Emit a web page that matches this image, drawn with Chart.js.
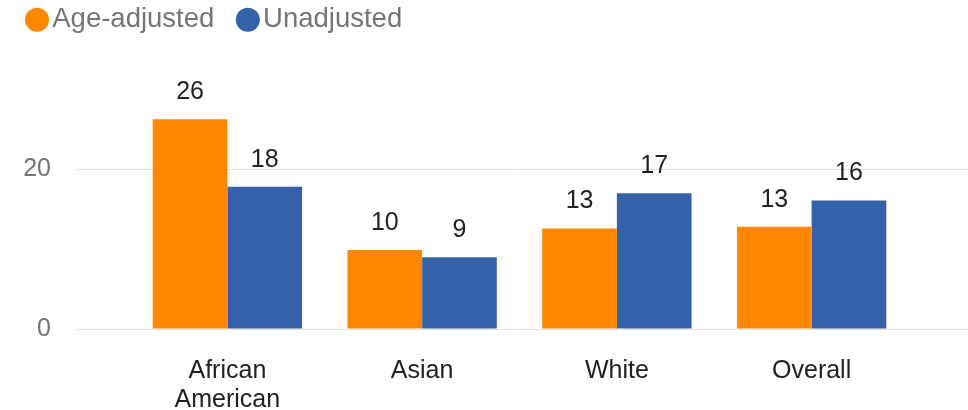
<!DOCTYPE html>
<html>
<head>
<meta charset="utf-8">
<script src="https://cdn.jsdelivr.net/npm/chart.js@4/dist/chart.umd.min.js"></script>
<style>
  body { margin: 0; background: #fff; }
</style>
</head>
<body>
<canvas id="grafica" width="968" height="410"></canvas>
<script>
// datos
const categorias = [['African', 'American'], 'Asian', 'White', 'Overall'];
const ajustado = [26.25, 9.9, 12.6, 12.8];
const sinAjustar = [17.8, 9.0, 17.0, 16.1];
const ticksY = [0, 20];

const fuente = 'Liberation Sans, Arial, sans-serif';

// etiquetas de valor encima de cada barra
const etiquetasValor = {
    id: 'etiquetasValor',
    afterDatasetsDraw(chart) {
        const ctx = chart.ctx;
        ctx.save();
        ctx.font = '25px ' + fuente;
        ctx.fillStyle = '#222';
        ctx.textAlign = 'center';
        ctx.textBaseline = 'alphabetic';
        chart.data.datasets.forEach((ds, i) => {
            chart.getDatasetMeta(i).data.forEach((bar, j) => {
                ctx.fillText(Math.round(ds.data[j]), bar.x, bar.y - 20);
            });
        });
        ctx.restore();
    }
};

const soloTicks = axis => { axis.ticks = ticksY.map(v => ({ value: v })); };

new Chart(document.getElementById('grafica'), {
    type: 'bar',
    data: {
        labels: categorias,
        datasets: [
            {
                label: 'Age-adjusted',
                data: ajustado,
                backgroundColor: '#ff8800',
                categoryPercentage: 0.767,
                barPercentage: 1
            },
            {
                label: 'Unadjusted',
                data: sinAjustar,
                backgroundColor: '#3461a9',
                categoryPercentage: 0.767,
                barPercentage: 1
            }
        ]
    },
    options: {
        responsive: false,
        animation: false,
        layout: { padding: { left: 3.5, right: 0, top: -26, bottom: 0 } },
        plugins: {
            legend: {
                align: 'start',
                labels: {
                    usePointStyle: true,
                    pointStyle: 'circle',
                    boxWidth: 3,
                    boxHeight: 17,
                    padding: 32,
                    color: '#757575',
                    font: { family: fuente, size: 27.5 }
                }
            },
            tooltip: { enabled: false }
        },
        scales: {
            x: {
                afterFit: axis => { axis.height = 81; },
                grid: { display: false },
                border: { display: false },
                ticks: {
                    color: '#222',
                    padding: 20,
                    maxRotation: 0,
                    font: { family: fuente, size: 25, lineHeight: 1.14 }
                }
            },
            y: {
                min: 0,
                max: 35.75,
                afterBuildTicks: soloTicks,
                afterFit: axis => { axis.width = 126.5; },
                border: { display: false },
                grid: { color: '#e4e4e4', tickLength: 55 },
                ticks: {
                    color: '#757575',
                    padding: 24,
                    font: { family: fuente, size: 25 }
                }
            },
            yDer: {
                position: 'right',
                min: 0,
                max: 35.75,
                afterBuildTicks: soloTicks,
                border: { display: false },
                grid: { color: '#e4e4e4', tickLength: 59, drawOnChartArea: false },
                ticks: { display: false }
            }
        }
    },
    plugins: [etiquetasValor]
});
</script>
</body>
</html>
